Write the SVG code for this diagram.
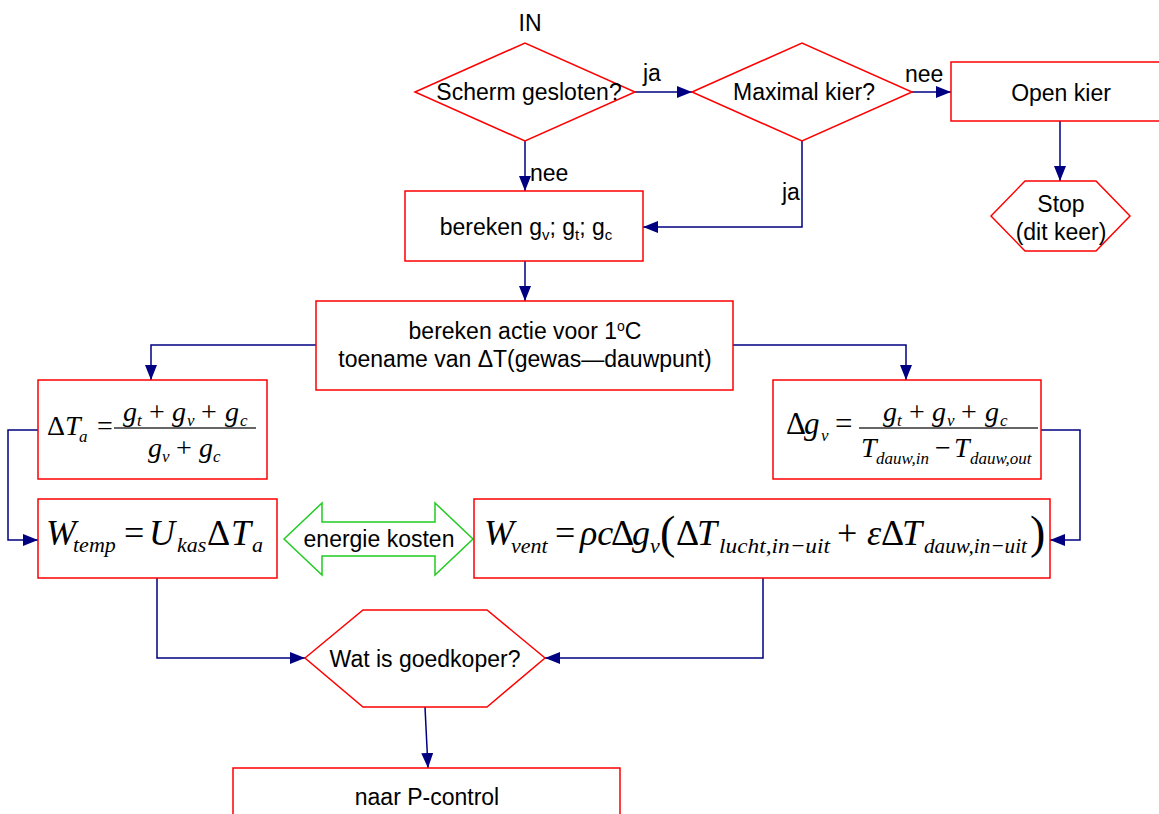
<svg xmlns="http://www.w3.org/2000/svg" width="1159" height="814" viewBox="0 0 1159 814">
<style>
.node{fill:#fff;stroke:#ff0000;stroke-width:1.5}
.t{font-family:"Liberation Sans",Arial,sans-serif;font-size:23px;fill:#000}
.c{text-anchor:middle}
.con{fill:none;stroke:#000080;stroke-width:1.5}
.f{font-family:"Liberation Serif","Times New Roman",serif;fill:#000}
.up{font-style:normal}
.it{font-style:italic}
.m{font-size:28px}
.s{font-size:17px}
.M{font-size:36px}
.S{font-size:22px}
.frac{stroke:#333;stroke-width:1.5}
</style>
<defs>
<marker id="ah" markerUnits="userSpaceOnUse" markerWidth="15" markerHeight="12" refX="15" refY="6" orient="auto">
<path d="M0,0 L15,6 L0,12 z" fill="#000080"/>
</marker>
</defs>
<rect width="1159" height="814" fill="#fff"/>

<text class="t c" x="530" y="31">IN</text>

<g id="connectors">
<path class="con" d="M635,92 L692,92" marker-end="url(#ah)"/>
<path class="con" d="M912,92 L951,92" marker-end="url(#ah)"/>
<path class="con" d="M1060,121 L1060,181" marker-end="url(#ah)"/>
<path class="con" d="M525,141 L525,191" marker-end="url(#ah)"/>
<path class="con" d="M802,141 L802,227 L643,227" marker-end="url(#ah)"/>
<path class="con" d="M525,261 L525,301" marker-end="url(#ah)"/>
<path class="con" d="M316,345 L151,345 L151,380" marker-end="url(#ah)"/>
<path class="con" d="M733,345 L906,345 L906,380" marker-end="url(#ah)"/>
<path class="con" d="M38,430 L8,430 L8,540 L38,540" marker-end="url(#ah)"/>
<path class="con" d="M1041,430 L1080,430 L1080,540 L1050,540" marker-end="url(#ah)"/>
<path class="con" d="M157,578 L157,658 L305,658" marker-end="url(#ah)"/>
<path class="con" d="M763,578 L763,658 L545,658" marker-end="url(#ah)"/>
<path class="con" d="M425,707 L428,768" marker-end="url(#ah)"/>
<text class="t" x="643" y="81">ja</text>
<text class="t" x="905" y="82">nee</text>
<text class="t" x="530" y="181">nee</text>
<text class="t" x="782" y="200">ja</text>
</g>

<g id="scherm">
<polygon class="node" points="415,92 525,43 635,92 525,141"/>
<text class="t c" x="529" y="100">Scherm gesloten?</text>
</g>

<g id="maximal">
<polygon class="node" points="692,92 802,43 912,92 802,141"/>
<text class="t c" x="804" y="100">Maximal kier?</text>
</g>

<g id="openkier">
<rect class="node" x="951" y="62" width="220" height="59"/>
<text class="t c" x="1061" y="101">Open kier</text>
</g>

<g id="stop">
<polygon class="node" points="991,216 1025,181 1096,181 1130,216 1096,251 1025,251"/>
<text class="t c" x="1061" y="212">Stop</text>
<text class="t c" x="1061" y="240">(dit keer)</text>
</g>

<g id="bereken-g">
<rect class="node" x="405" y="191" width="238" height="70"/>
<text class="t c" x="526" y="235">bereken g<tspan font-size="15" dy="5">v</tspan><tspan dy="-5">; g</tspan><tspan font-size="15" dy="5">t</tspan><tspan dy="-5">; g</tspan><tspan font-size="15" dy="5">c</tspan></text>
</g>

<g id="actie">
<rect class="node" x="316" y="301" width="417" height="89"/>
<text class="t c" x="525" y="339">bereken actie voor 1<tspan font-size="14" dy="-8">o</tspan><tspan dy="8">C</tspan></text>
<text class="t c" x="525" y="367">toename van ΔT(gewas—dauwpunt)</text>
</g>

<g id="delta-ta">
<rect class="node" x="38" y="380" width="229" height="99"/>
<text class="f m"><tspan class="up" x="47" y="435">Δ</tspan><tspan class="it" x="65" y="435">T</tspan><tspan class="it s" x="79" y="442">a</tspan><tspan class="up" x="97" y="435">=</tspan></text>
<line class="frac" x1="114" y1="428" x2="256" y2="428"/>
<text class="f m"><tspan class="it" x="123" y="421">g</tspan><tspan class="it s" x="137" y="426">t</tspan><tspan class="up" x="149" y="421">+</tspan><tspan class="it" x="172" y="421">g</tspan><tspan class="it s" x="187" y="426">v</tspan><tspan class="up" x="201" y="421">+</tspan><tspan class="it" x="225" y="421">g</tspan><tspan class="it s" x="240" y="426">c</tspan></text>
<text class="f m"><tspan class="it" x="148" y="457">g</tspan><tspan class="it s" x="162" y="462">v</tspan><tspan class="up" x="176" y="457">+</tspan><tspan class="it" x="199" y="457">g</tspan><tspan class="it s" x="213" y="462">c</tspan></text>
</g>

<g id="delta-gv">
<rect class="node" x="773" y="380" width="268" height="99"/>
<text class="f" font-size="31"><tspan class="up" x="786" y="434">Δ</tspan><tspan class="it" x="804" y="434">g</tspan><tspan class="it s" x="821" y="441">v</tspan><tspan class="up" x="835" y="434">=</tspan></text>
<line class="frac" x1="859" y1="428" x2="1038" y2="428"/>
<text class="f m"><tspan class="it" x="883" y="421">g</tspan><tspan class="it s" x="897" y="426">t</tspan><tspan class="up" x="909" y="421">+</tspan><tspan class="it" x="932" y="421">g</tspan><tspan class="it s" x="947" y="426">v</tspan><tspan class="up" x="961" y="421">+</tspan><tspan class="it" x="985" y="421">g</tspan><tspan class="it s" x="1000" y="426">c</tspan></text>
<text class="f m"><tspan class="it" x="861" y="457">T</tspan><tspan class="it s" x="876" y="464">dauw,in</tspan><tspan class="up" x="935" y="457">−</tspan><tspan class="it" x="954" y="457">T</tspan><tspan class="it s" x="970" y="464">dauw,out</tspan></text>
</g>

<g id="w-temp">
<rect class="node" x="38" y="499" width="239" height="79"/>
<text class="f M"><tspan class="it" x="46" y="545">W</tspan><tspan class="it S" x="73" y="552">temp</tspan><tspan class="up" x="124" y="545">=</tspan><tspan class="it" x="149" y="545">U</tspan><tspan class="it S" x="177" y="552">kas</tspan><tspan class="up" x="207" y="545">Δ</tspan><tspan class="it" x="231" y="545">T</tspan><tspan class="it S" x="252" y="552">a</tspan></text>
</g>

<g id="energie">
<polygon points="284,539 322,503 322,522 435,522 435,503 473,539 435,575 435,556 322,556 322,575" fill="#fff" stroke="#22cc22" stroke-width="1.5"/>
<text class="t c" x="379" y="547">energie kosten</text>
</g>

<g id="w-vent">
<rect class="node" x="474" y="499" width="576" height="79"/>
<text class="f M"><tspan class="it" x="484" y="545">W</tspan><tspan class="it S" x="511" y="553">vent</tspan><tspan class="up" x="555" y="545">=</tspan><tspan class="it" x="580" y="545">ρc</tspan><tspan class="up" x="611" y="545">Δ</tspan><tspan class="it" x="632" y="545">g</tspan><tspan class="it S" x="650" y="553">v</tspan><tspan class="up" font-size="46" x="660" y="548">(</tspan><tspan class="up" x="676" y="545">Δ</tspan><tspan class="it" x="697" y="545">T</tspan><tspan class="it S" x="719" y="553" textLength="111" lengthAdjust="spacingAndGlyphs">lucht,in−uit</tspan><tspan class="up" x="837" y="545">+</tspan><tspan class="it" x="867" y="545">ε</tspan><tspan class="up" x="881" y="545">Δ</tspan><tspan class="it" x="902" y="545">T</tspan><tspan class="it S" x="924" y="553" textLength="103" lengthAdjust="spacingAndGlyphs">dauw,in−uit</tspan><tspan class="up" font-size="46" x="1030" y="548">)</tspan></text>
</g>

<g id="goedkoper">
<polygon class="node" points="305,658 363,610 487,610 545,658 487,707 363,707"/>
<text class="t c" x="425" y="667">Wat is goedkoper?</text>
</g>

<g id="pcontrol">
<rect class="node" x="233" y="768" width="387" height="60"/>
<text class="t c" x="427" y="805">naar P-control</text>
</g>
</svg>
